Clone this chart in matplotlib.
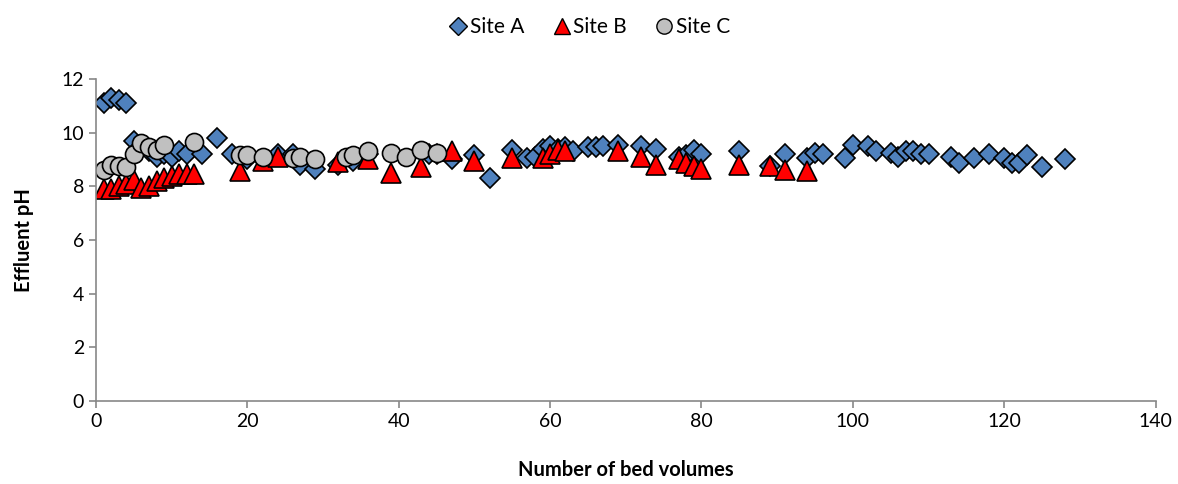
import matplotlib.pyplot as plt
from matplotlib.lines import Line2D

plt.rcParams['font.family'] = ['Lato', 'DejaVu Sans']

# Site A
a_bv = [1, 2, 3, 4, 5, 6, 7, 8, 9, 10, 11, 12, 14, 16, 18, 20, 24, 26, 27, 29,
        32, 34, 36, 44, 45, 47, 50, 52, 55, 57, 58, 59, 60, 61, 62, 63, 65, 66,
        67, 69, 72, 74, 77, 78, 79, 80, 85, 89, 91, 94, 95, 96, 99, 100, 102,
        103, 105, 106, 107, 108, 109, 110, 113, 114, 116, 118, 120, 121, 122,
        123, 125, 128]
a_ph = [11.1, 11.28, 11.2, 11.1, 9.7, 9.5, 9.3, 9.1, 9.2, 9.1, 9.3, 9.2, 9.2,
        9.8, 9.2, 9.0, 9.2, 9.2, 8.8, 8.65, 8.8, 8.95, 9.2, 9.2, 9.2, 9.0, 9.15,
        8.3, 9.35, 9.05, 9.1, 9.4, 9.5, 9.4, 9.45, 9.3, 9.45, 9.45, 9.5, 9.55,
        9.5, 9.4, 9.1, 9.15, 9.35, 9.2, 9.3, 8.75, 9.2, 9.05, 9.25, 9.2, 9.05,
        9.55, 9.5, 9.3, 9.25, 9.1, 9.3, 9.3, 9.2, 9.2, 9.1, 8.85, 9.05, 9.2,
        9.05, 8.85, 8.85, 9.15, 8.7, 9.0]

# Site B
b_bv = [1, 2, 3, 4, 5, 6, 7, 8, 9, 10, 11, 12, 13, 19, 22, 24, 32, 36, 39, 43,
        47, 50, 55, 59, 60, 61, 62, 69, 72, 74, 77, 78, 79, 80, 85, 89, 91, 94]
b_ph = [7.9, 7.9, 8.0, 8.1, 8.25, 7.95, 8.0, 8.2, 8.3, 8.4, 8.45, 8.45, 8.45,
        8.55, 8.95, 9.1, 8.9, 9.0, 8.5, 8.7, 9.3, 8.95, 9.05, 9.05, 9.2, 9.35,
        9.3, 9.3, 9.1, 8.8, 9.0, 8.85, 8.75, 8.65, 8.8, 8.75, 8.6, 8.55]

# Site C
c_bv = [1, 2, 3, 4, 5, 6, 7, 8, 9, 13, 19, 20, 22, 26, 27, 29, 33, 34, 36, 39,
        41, 43, 45]
c_ph = [8.6, 8.8, 8.75, 8.7, 9.2, 9.6, 9.45, 9.35, 9.55, 9.65, 9.15, 9.15, 9.1,
        9.05, 9.1, 9.0, 9.1, 9.15, 9.3, 9.25, 9.1, 9.35, 9.25]

fig = plt.figure(figsize=(11.78, 4.84), dpi=100)
ax = fig.add_axes([0.0815, 0.1715, 0.8995, 0.6655])

ax.plot(a_bv, a_ph, 'D', ms=10, mfc='#4F81BD', mec='black', mew=1.2,
        linestyle='none', label='Site A')
ax.plot(b_bv, b_ph, '^', ms=14, mfc='#FF0000', mec='black', mew=1.2,
        linestyle='none', label='Site B')
ax.plot(c_bv, c_ph, 'o', ms=13, mfc='#C0C0C0', mec='black', mew=1.2,
        linestyle='none', label='Site C')

ax.set_xlim(0, 140)
ax.set_ylim(0, 12)
ax.set_xticks(range(0, 141, 20))
ax.set_yticks(range(0, 13, 2))
ax.tick_params(labelsize=14, color='#888888', length=5, width=1.2)
for s in ['top', 'right']:
    ax.spines[s].set_visible(False)
for s in ['left', 'bottom']:
    ax.spines[s].set_color('#888888')
    ax.spines[s].set_linewidth(1.2)

ax.set_xlabel('Number of bed volumes', fontsize=14.5, fontweight='bold', labelpad=22)
ax.set_ylabel('Effluent pH', fontsize=14.5, fontweight='bold', labelpad=20)

handles = [
    Line2D([], [], marker='D', ms=9, mfc='#4F81BD', mec='black', mew=1, ls='none'),
    Line2D([], [], marker='^', ms=12, mfc='#FF0000', mec='black', mew=1, ls='none'),
    Line2D([], [], marker='o', ms=11, mfc='#C0C0C0', mec='black', mew=1, ls='none'),
]
fig.legend(handles, ['Site A', 'Site B', 'Site C'], loc='center',
           bbox_to_anchor=(0.5, 0.944), ncol=3, frameon=False, fontsize=15,
           handletextpad=0.05, columnspacing=1.3, handlelength=1)

fig.savefig('out.png', dpi=100)
